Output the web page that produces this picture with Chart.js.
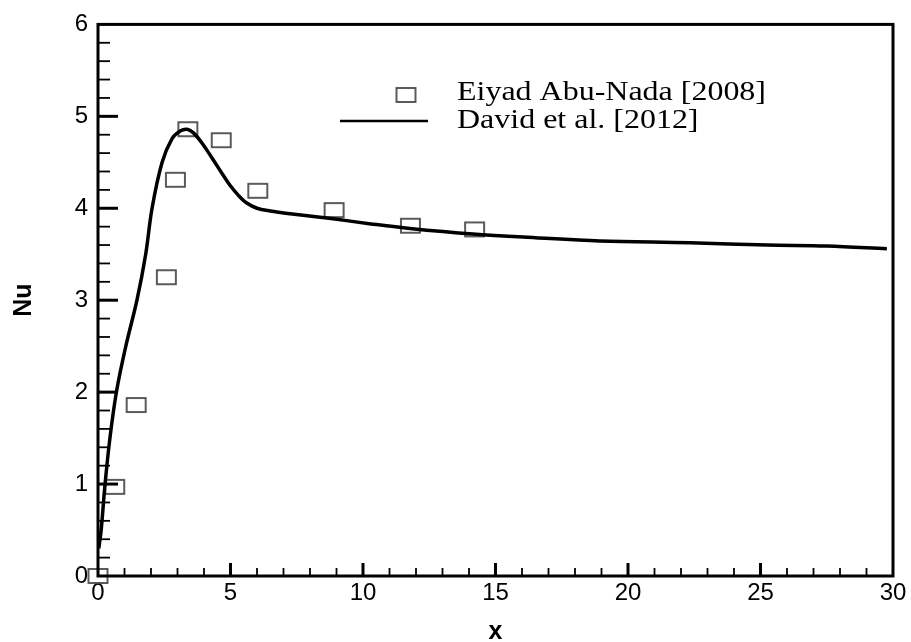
<!DOCTYPE html>
<html><head><meta charset="utf-8">
<script src="https://cdn.jsdelivr.net/npm/chart.js@4/dist/chart.umd.min.js"></script>
<style>html,body{margin:0;padding:0;background:#fff;} canvas{display:block;}</style>
</head><body>
<canvas id="c" width="911" height="642"></canvas>
<script>
const seriesLabels = ['Eiyad Abu-Nada [2008]', 'David et al. [2012]'];
const abuNadaX  = [0, 0.63, 1.44, 2.58, 2.92, 3.39, 4.65, 6.03, 8.91, 11.79, 14.21];
const abuNadaNu = [0, 0.97, 1.86, 3.25, 4.31, 4.86, 4.74, 4.19, 3.98, 3.81, 3.77];
const davidX  = [0.03, 0.12, 0.26, 0.45, 0.7, 1.05, 1.47, 1.8, 2.04, 2.42, 2.8, 3.1, 3.36, 3.6, 3.95, 4.34, 4.7, 4.98, 5.3, 5.6, 6.0, 6.5, 7.25, 8.87, 10.3, 11.77, 14.15, 16.5, 18.94, 22.34, 25.25, 27.5, 29.77];
const davidNu = [0.3, 0.5, 0.98, 1.5, 2.01, 2.5, 3.0, 3.5, 4.0, 4.5, 4.76, 4.84, 4.86, 4.82, 4.7, 4.53, 4.37, 4.25, 4.14, 4.06, 4.0, 3.97, 3.94, 3.885, 3.83, 3.78, 3.72, 3.68, 3.645, 3.625, 3.6, 3.59, 3.56];
const xTicks = [0, 5, 10, 15, 20, 25, 30];
const yTicks = [0, 1, 2, 3, 4, 5, 6];
const xTitle = 'x';
const yTitle = 'Nu';

// hollow rectangle marker
const sq = document.createElement('canvas');
sq.width = 23; sq.height = 18;
(function(){
  const g = sq.getContext('2d');
  g.strokeStyle = '#4a4a4a'; g.lineWidth = 1.8;
  g.strokeRect(2, 2, 19, 14);
})();

const frame = {
  id: 'frame',
  afterDatasetsDraw(chart) {
    const {ctx, chartArea: a, scales: {x, y}} = chart;
    ctx.save();
    ctx.strokeStyle = '#000';
    ctx.lineCap = 'butt';
    for (let i = 1; i < 30; i++) {
      const px = x.getPixelForValue(i);
      const major = i % 5 === 0;
      ctx.lineWidth = major ? 3 : 1.8;
      ctx.beginPath();
      ctx.moveTo(px, a.bottom);
      ctx.lineTo(px, a.bottom - (major ? 13 : 8));
      ctx.stroke();
    }
    for (let i = 1; i < 30; i++) {
      const py = y.getPixelForValue(i / 5);
      const major = i % 5 === 0;
      ctx.lineWidth = major ? 3 : 1.8;
      ctx.beginPath();
      ctx.moveTo(a.left, py);
      ctx.lineTo(a.left + (major ? 20 : 12), py);
      ctx.stroke();
    }
    ctx.lineWidth = 3;
    ctx.strokeRect(a.left, a.top, a.right - a.left, a.bottom - a.top);
    ctx.restore();
  }
};

const legendPlugin = {
  id: 'customLegend',
  afterDraw(chart) {
    const ctx = chart.ctx;
    ctx.save();
    ctx.drawImage(sq, 406 - sq.width / 2, 95 - sq.height / 2);
    ctx.strokeStyle = '#000';
    ctx.lineWidth = 2.5;
    ctx.beginPath(); ctx.moveTo(340, 121); ctx.lineTo(428, 121); ctx.stroke();
    ctx.fillStyle = '#000';
    ctx.font = '28px "Liberation Serif", "Times New Roman", serif';
    ctx.textBaseline = 'middle';
    ctx.textAlign = 'left';
    const w = ctx.measureText(seriesLabels[0]).width;
    const sx = 309 / w;
    ctx.translate(457, 0);
    ctx.scale(sx, 1);
    ctx.fillText(seriesLabels[0], 0, 93);
    ctx.fillText(seriesLabels[1], 0, 121);
    ctx.restore();
  }
};

new Chart(document.getElementById('c'), {
  data: {
    datasets: [
      {
        type: 'line',
        label: seriesLabels[1],
        data: davidX.map((v, i) => ({x: v, y: davidNu[i]})),
        borderColor: '#000',
        borderWidth: 3.5,
        pointRadius: 0,
        fill: false,
        tension: 0.35,
        order: 1
      },
      {
        type: 'scatter',
        label: seriesLabels[0],
        data: abuNadaX.map((v, i) => ({x: v, y: abuNadaNu[i]})),
        pointStyle: sq,
        pointRadius: 10,
        clip: false,
        order: 2
      }
    ]
  },
  options: {
    responsive: false,
    animation: false,
    layout: {padding: {top: 21, right: 18, left: 0, bottom: 0}},
    plugins: {legend: {display: false}, tooltip: {enabled: false}},
    scales: {
      x: {
        type: 'linear', min: 0, max: 30,
        afterFit: s => { s.height = 66; },
        afterBuildTicks: s => { s.ticks = xTicks.map(v => ({value: v})); },
        grid: {display: false, drawTicks: false},
        border: {display: false},
        ticks: {padding: 3, color: '#000', font: {family: '"Liberation Sans", Arial, sans-serif', size: 24}},
        title: {display: true, text: xTitle, color: '#000', padding: 0,
                font: {family: '"Liberation Sans", Arial, sans-serif', size: 25, weight: 'bold', lineHeight: 0.8}}
      },
      y: {
        type: 'linear', min: 0, max: 6,
        afterFit: s => { s.width = 98; },
        afterBuildTicks: s => { s.ticks = yTicks.map(v => ({value: v})); },
        grid: {display: false, drawTicks: false},
        border: {display: false},
        ticks: {padding: 10, color: '#000', font: {family: '"Liberation Sans", Arial, sans-serif', size: 24}},
        title: {display: true, text: yTitle, color: '#000', padding: {top: 9, bottom: 0},
                font: {family: '"Liberation Sans", Arial, sans-serif', size: 25, weight: 'bold', lineHeight: 1.2}}
      }
    }
  },
  plugins: [frame, legendPlugin]
});
</script>
</body></html>
